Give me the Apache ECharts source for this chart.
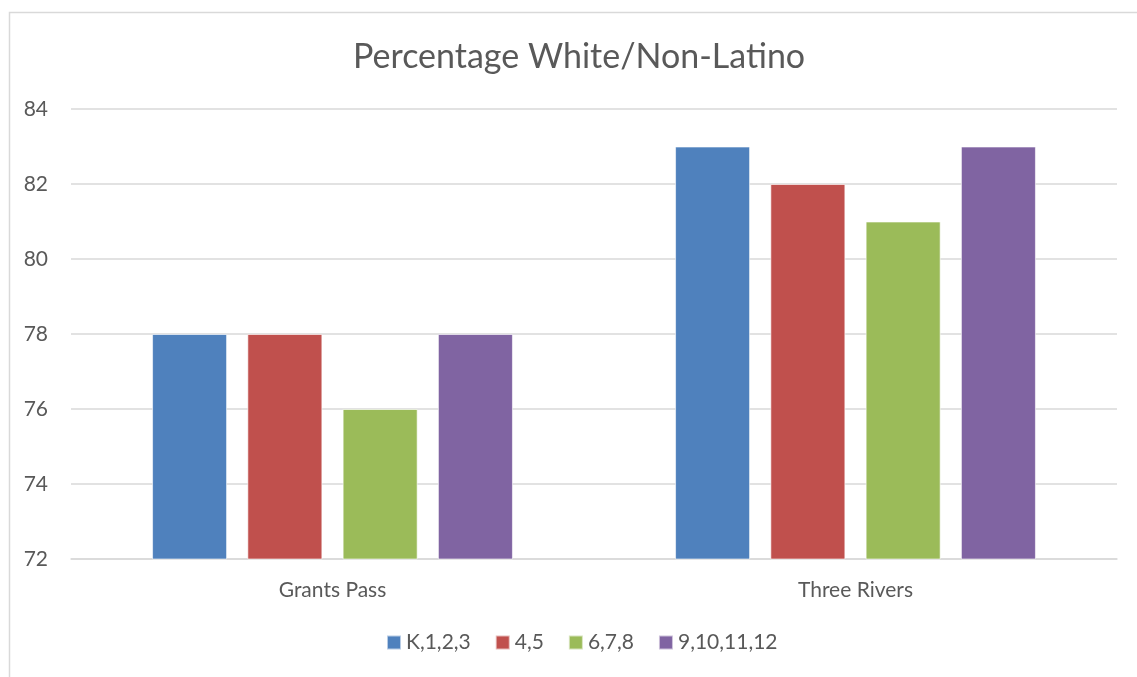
<!DOCTYPE html>
<html><head><meta charset="utf-8">
<script src="https://cdn.jsdelivr.net/npm/echarts@6/dist/echarts.min.js"></script>
<style>html,body{margin:0;padding:0;background:#fff}#c{width:1137px;height:677px}</style>
</head><body><div id="c"></div>
<script>
const categories = ['Grants Pass', 'Three Rivers'];
const seriesNames = ['K,1,2,3', '4,5', '6,7,8', '9,10,11,12'];
const k123 = [78, 83];
const g45 = [78, 82];
const g678 = [76, 81];
const g9to12 = [78, 83];
const yTicks = [72, 74, 76, 78, 80, 82, 84];
const colors = ['#4F81BD', '#C0504D', '#9BBB59', '#8064A2'];
const values = [k123, g45, g678, g9to12];
const font = 'Lato, "Open Sans", sans-serif';
const chart = echarts.init(document.getElementById('c'));
chart.setOption({
  animation: false,
  color: colors,
  title: {
    text: 'Percentage White/Non-Latino', left: 348, top: 35,
    textStyle: { fontFamily: font, fontSize: 34, fontWeight: 'normal', color: '#595959' }
  },
  graphic: [{ type: 'rect', left: 7, top: 10, shape: { width: 1160, height: 700 },
    style: { fill: 'none', stroke: '#D9D9D9', lineWidth: 1.5 }, silent: true }],
  grid: { left: 71, right: 20, top: 109, bottom: 118 },
  legend: {
    data: seriesNames, bottom: 19, left: 381, itemWidth: 14, itemHeight: 14, itemGap: 24,
    icon: 'rect', textStyle: { fontFamily: font, fontSize: 21, color: '#595959' }
  },
  xAxis: {
    type: 'category', data: categories,
    axisLine: { lineStyle: { color: '#D9D9D9', width: 1.5 } }, axisTick: { show: false },
    axisLabel: { fontFamily: font, fontSize: 21, color: '#595959', margin: 21 }
  },
  yAxis: {
    type: 'value', min: yTicks[0], max: yTicks[yTicks.length - 1], interval: 2,
    axisLine: { show: false }, axisTick: { show: false },
    splitLine: { lineStyle: { color: '#D9D9D9', width: 1.5 } },
    axisLabel: { fontFamily: font, fontSize: 21, color: '#595959', margin: 23 }
  },
  series: seriesNames.map((n, i) => ({
    name: n, type: 'bar', data: values[i], barGap: '27%', barCategoryGap: '31%',
    itemStyle: { borderColor: 'rgba(255,255,255,0.6)', borderWidth: 1 }
  }))
});
</script></body></html>
